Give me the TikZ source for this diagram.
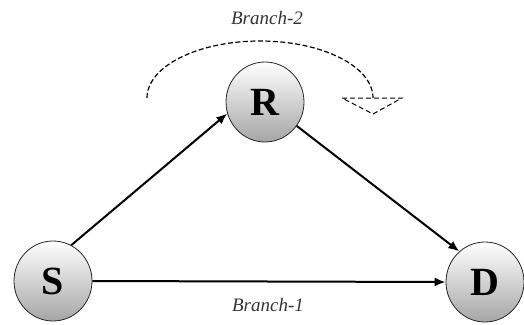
\documentclass[tikz,border=0pt]{standalone}
\usepackage{fontspec}
\setmainfont{Liberation Serif}
\usepackage{tikz}
\usetikzlibrary{shapes.geometric,arrows.meta,positioning,calc}

\begin{document}
\begin{tikzpicture}[x=1pt,y=-1pt]
  \tikzstyle{ball}=[ellipse,draw=black!85,line width=0.8pt,top color=white,bottom color=gray!70,minimum width=78pt,minimum height=80pt,inner sep=0pt,font=\fontsize{40}{40}\selectfont\bfseries]
  \tikzstyle{link}=[line width=2pt,-{Latex[length=11pt,width=9pt]}]
  \tikzstyle{branch}=[font=\fontsize{19}{19}\selectfont\itshape,text=black!80]
  \useasboundingbox (0,0) rectangle (524,324);
  \node[ball] (src) at (53,281) {S};
  \node[ball] (relay) at (265,102) {R};
  \node[ball] (dst) at (485,282) {D};
  \draw[link] (src.63) -- (relay.197);
  \draw[link] (relay.323) -- (dst.130);
  \draw[link] (src.east) -- (dst.west);
  \node[branch] (b1) at (268,305) {Branch-1};
  \node[branch] (b2) at (267,18) {Branch-2};
  % dashed loop over the relay
  \coordinate (loopstart) at (147,98);
  \draw[dashed,dash pattern=on 5pt off 2.5pt,line width=1.2pt] (loopstart) arc[start angle=180,end angle=360,x radius=113,y radius=57] coordinate (loopend);
  \draw[dashed,dash pattern=on 5pt off 3pt,line width=1pt] ($(loopend)+(-31,0)$) -- ($(loopend)+(29,0)$) -- ($(loopend)+(0,16)$) -- cycle;
\end{tikzpicture}
\end{document}
